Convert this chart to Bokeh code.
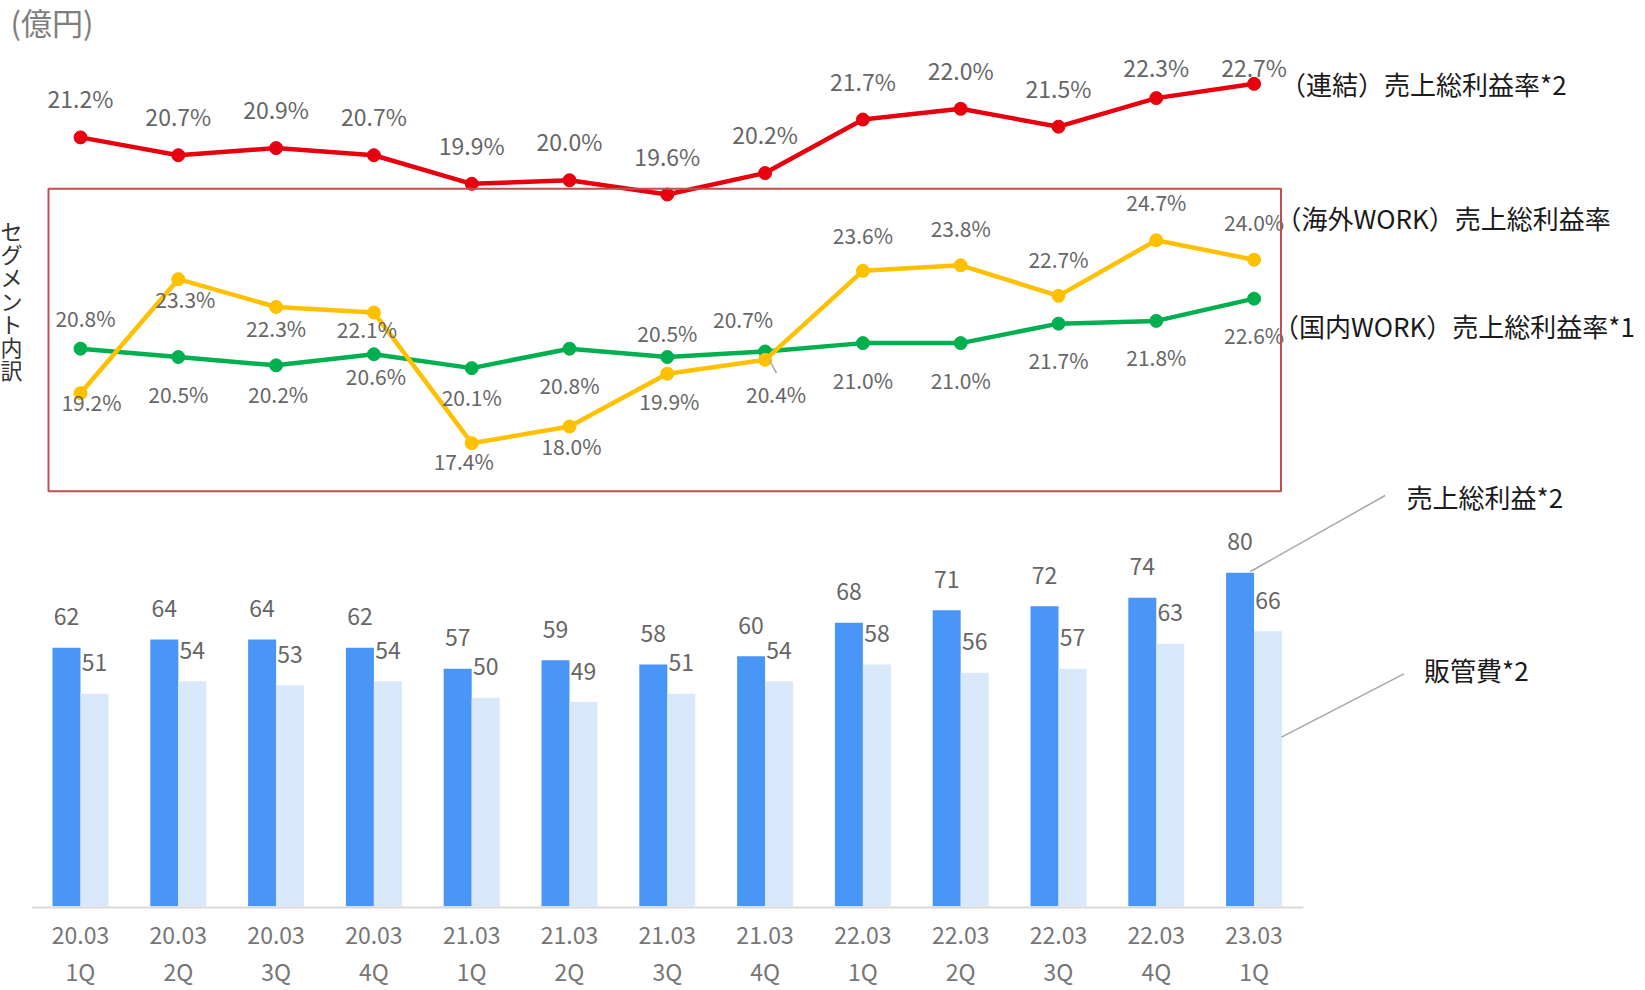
import numpy as np
from bokeh.plotting import figure
from bokeh.models import Range1d, BoxAnnotation, Label
from bokeh.core.properties import value
from bokeh.embed import file_html
from bokeh.resources import INLINE

# ---------------- data ----------------
periods = ["20.03", "20.03", "20.03", "20.03", "21.03", "21.03", "21.03", "21.03",
           "22.03", "22.03", "22.03", "22.03", "23.03"]
quarters = ["1Q", "2Q", "3Q", "4Q", "1Q", "2Q", "3Q", "4Q", "1Q", "2Q", "3Q", "4Q", "1Q"]
gross_profit = [62, 64, 64, 62, 57, 59, 58, 60, 68, 71, 72, 74, 80]      # 売上総利益*2
sga = [51, 54, 53, 54, 50, 49, 51, 54, 58, 56, 57, 63, 66]               # 販管費*2
margin_consolidated = [21.2, 20.7, 20.9, 20.7, 19.9, 20.0, 19.6, 20.2, 21.7, 22.0, 21.5, 22.3, 22.7]
margin_domestic = [20.8, 20.5, 20.2, 20.6, 20.1, 20.8, 20.5, 20.7, 21.0, 21.0, 21.7, 21.8, 22.6]
margin_overseas = [19.2, 23.3, 22.3, 22.1, 17.4, 18.0, 19.9, 20.4, 23.6, 23.8, 22.7, 24.7, 24.0]

# label placement tweaks (pixels; dy positive = up)
green_dx = [5, 0, 2, 2, 0, 0, 0, -22, 0, 0, 0, 0, 0]
green_dy = [31, -37, -29, -22, -29, -36, 24, 32, -37, -37, -36, -36, -36]
orange_dx = [11, 7, 0, -7, -8, 2, 2, 11, 0, 0, 0, 0, 0]
orange_dy = [-9, -20, -21, -16, -18, -19, -27, -34, 36, 37, 37, 38, 38]

# ---------------- styles ----------------
RED = "#E8000E"
GREEN = "#00B050"
ORANGE = "#FFC000"
BLUE = "#4A96F6"
LIGHT = "#DAE8FC"
LABEL_GRAY = "#666666"
AXIS_GRAY = "#767676"
BOX_RED = "#C0504D"
LEADER = "#A6A6A6"
FONT = "Noto Sans CJK JP"
FONTV = value(FONT)

W, H = 1645, 986
CAT0, CAT_W = 80.0, 97.8                  # canvas x of first category, spacing
BASE_Y, BAR_PPU = 905.7, 4.167            # bar baseline (canvas y), px per 億円
RED_Y0, RED_V0, RED_PPU = 194.0, 19.6, 35.7
SEG_Y0, SEG_V0, SEG_PPU = 442.7, 17.4, 27.8

x_rng = Range1d(-CAT0 / CAT_W, (W - CAT0) / CAT_W)
y_rng = Range1d(-(H - BASE_Y) / BAR_PPU, BASE_Y / BAR_PPU)

p = figure(width=W, height=H, x_range=x_rng, y_range=y_rng,
           x_axis_type=None, y_axis_type=None, toolbar_location=None,
           output_backend="svg", min_border=0, outline_line_color=None,
           background_fill_color="white", border_fill_color="white")
p.extra_y_ranges = {
    "red": Range1d(RED_V0 - (H - RED_Y0) / RED_PPU, RED_V0 + RED_Y0 / RED_PPU),
    "seg": Range1d(SEG_V0 - (H - SEG_Y0) / SEG_PPU, SEG_V0 + SEG_Y0 / SEG_PPU),
}


def X(px):
    return x_rng.start + px / CAT_W


def Y(py):
    return (BASE_Y - py) / BAR_PPU


idx = np.arange(len(periods))
bw = 28 / CAT_W

# ---------------- bars ----------------
p.vbar(x=idx - bw / 2, top=gross_profit, bottom=0, width=bw, fill_color=BLUE, line_color=None)
p.vbar(x=idx + bw / 2, top=sga, bottom=0, width=bw, fill_color=LIGHT, line_color=None)
p.segment(x0=[X(31.5)], y0=[-1.2 / BAR_PPU], x1=[X(1303)], y1=[-1.2 / BAR_PPU],
          line_color="#D9D9D9", line_width=2)

p.text(x=idx - bw / 2, y=np.array(gross_profit) + 31 / BAR_PPU, text=[str(v) for v in gross_profit],
       text_align="center", text_baseline="middle", text_font=FONTV,
       text_font_size=value("23px"), text_color=LABEL_GRAY)
p.text(x=idx + bw / 2, y=np.array(sga) + 31 / BAR_PPU, text=[str(v) for v in sga],
       text_align="center", text_baseline="middle", text_font=FONTV,
       text_font_size=value("23px"), text_color=LABEL_GRAY)

# category labels
p.text(x=idx, y=np.full(len(idx), Y(935)), text=periods, text_align="center",
       text_baseline="middle", text_font=FONTV, text_font_size=value("23px"), text_color=AXIS_GRAY)
p.text(x=idx, y=np.full(len(idx), Y(970)), text=quarters, text_align="center",
       text_baseline="middle", text_font=FONTV, text_font_size=value("23px"), text_color=AXIS_GRAY)

# ---------------- segment box ----------------
p.add_layout(BoxAnnotation(left=X(48), right=X(1280.5), top=Y(188.3), bottom=Y(490.7),
                           fill_alpha=0, line_color=BOX_RED, line_alpha=1.0, line_width=2))

# ---------------- lines ----------------
p.line(idx, margin_consolidated, y_range_name="red", line_color=RED, line_width=4.5)
p.scatter(idx, margin_consolidated, y_range_name="red", size=13, fill_color=RED, line_color=RED)
red_lab_y = np.minimum(np.array(margin_consolidated) + 39 / RED_PPU, RED_V0 + (RED_Y0 - 66) / RED_PPU)
p.text(x=idx, y=red_lab_y, y_range_name="red", text=[f"{v:.1f}%" for v in margin_consolidated],
       text_align="center", text_baseline="middle", text_font=FONTV,
       text_font_size=value("23px"), text_color=LABEL_GRAY)

p.line(idx, margin_domestic, y_range_name="seg", line_color=GREEN, line_width=4.5)
p.scatter(idx, margin_domestic, y_range_name="seg", size=13, fill_color=GREEN, line_color=GREEN)
p.line(idx, margin_overseas, y_range_name="seg", line_color=ORANGE, line_width=4.5)
p.scatter(idx, margin_overseas, y_range_name="seg", size=13, fill_color=ORANGE, line_color=ORANGE)

p.text(x=idx + np.array(green_dx) / CAT_W,
       y=np.array(margin_domestic) + np.array(green_dy) / SEG_PPU, y_range_name="seg",
       text=[f"{v:.1f}%" for v in margin_domestic], text_align="center", text_baseline="middle",
       text_font=FONTV, text_font_size=value("21px"), text_color=LABEL_GRAY)
p.text(x=idx + np.array(orange_dx) / CAT_W,
       y=np.array(margin_overseas) + np.array(orange_dy) / SEG_PPU, y_range_name="seg",
       text=[f"{v:.1f}%" for v in margin_overseas], text_align="center", text_baseline="middle",
       text_font=FONTV, text_font_size=value("21px"), text_color=LABEL_GRAY)

# leader lines
p.segment(x0=[X(769), X(1250), X(1281)], y0=[Y(360), Y(571), Y(736.7)],
          x1=[X(776), X(1384.6), X(1403.4)], y1=[Y(372.7), Y(495), Y(673.3)],
          line_color=LEADER, line_width=1.5)

# ---------------- static texts ----------------
def add_label(txt, px, py, size, color, align="left"):
    p.add_layout(Label(x=X(px), y=Y(py), text=txt, text_font=FONT, text_font_size=size,
                       text_color=color, text_align=align, text_baseline="middle"))


add_label("(億円)", 10, 21, "31px", "#7F7F7F")
add_label("（連結）売上総利益率*2", 1279.5, 83, "26px", "#1A1A1A")
add_label("（海外WORK）売上総利益率", 1275, 216.7, "26px", "#1A1A1A")
add_label("（国内WORK）売上総利益率*1", 1272.5, 325, "26px", "#1A1A1A")
add_label("売上総利益*2", 1406, 496, "26px", "#1A1A1A")
add_label("販管費*2", 1423.5, 669, "26px", "#1A1A1A")

for k, ch in enumerate("セグメント内訳"):
    add_label(ch, 11, 229.5 + 23.17 * k, "22px", "#333333", align="center")

open("out.html", "w").write(file_html(p, INLINE))
